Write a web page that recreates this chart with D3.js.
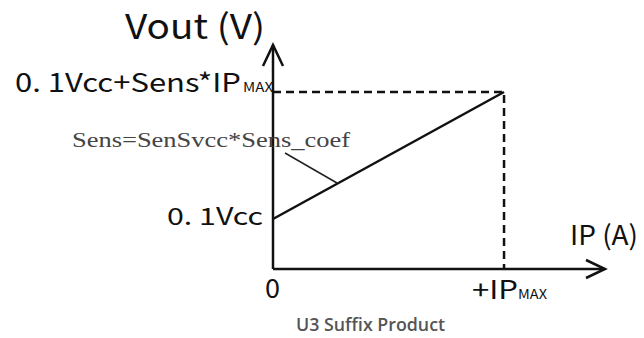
<!DOCTYPE html>
<html>
<head>
<meta charset="utf-8">
<script src="https://cdn.jsdelivr.net/npm/d3@7"></script>
<style>
  body { margin: 0; background: #fff; }
  svg text { font-family: "Noto Sans CJK SC", "Noto Sans", sans-serif; fill: #111; }
</style>
</head>
<body>
<div id="chart"></div>
<script>
// IP in units of IPMAX, Vout in volts (Vcc = 5)
var ipPoints = [0, 1];
var voutPoints = [0.5, 1.77];
var axisMax = [1.437, 2.24];   // where the arrows end
var yLabels = ["0. 1Vcc", "0. 1Vcc+Sens*IP"];
var xLabels = ["0", "+IP"];
var leaderPoints = [[0.052, 1.16], [0.277, 0.86]];

var width = 644, height = 338;
var origin = {x: 273, y: 269};

var x = d3.scaleLinear().domain([0, axisMax[0]]).range([origin.x, 605]);
var y = d3.scaleLinear().domain([0, axisMax[1]]).range([origin.y, 45]);

var svg = d3.select("#chart").append("svg")
            .attr("width", width)
            .attr("height", height);

// dashed guides to IPMAX
svg.append("path")
   .attr("d", d3.line()([[x(0), y(voutPoints[1])], [x(ipPoints[1]), y(voutPoints[1])], [x(ipPoints[1]), y(0)]]))
   .style("fill", "none")
   .style("stroke", "#111")
   .style("stroke-width", 2.5)
   .style("stroke-dasharray", "8,5");

// axes
var axes = svg.append("g")
              .style("fill", "none")
              .style("stroke", "#111")
              .style("stroke-width", 2.5);
axes.append("path")
    .attr("d", d3.line()([[x(0), y(0)], [x(0), y(axisMax[1])]]));
axes.append("path")
    .attr("d", d3.line()([[x(0), y(0)], [x(axisMax[0]), y(0)]]));
// arrow heads
axes.append("path")
    .attr("d", d3.line()([[x(0) - 10, y(axisMax[1]) + 21], [x(0), y(axisMax[1])], [x(0) + 10, y(axisMax[1]) + 21]]));
axes.append("path")
    .attr("d", d3.line()([[x(axisMax[0]) - 19, y(0) - 9], [x(axisMax[0]), y(0)], [x(axisMax[0]) - 19, y(0) + 9]]));

// transfer line
svg.append("path")
   .datum(ipPoints.map(function(d, i) { return [d, voutPoints[i]]; }))
   .attr("d", d3.line().x(function(d) { return x(d[0]); }).y(function(d) { return y(d[1]); }))
   .style("fill", "none")
   .style("stroke", "#111")
   .style("stroke-width", 2.5);

// leader to formula
svg.append("path")
   .attr("d", d3.line().x(function(d) { return x(d[0]); }).y(function(d) { return y(d[1]); })(leaderPoints))
   .style("fill", "none")
   .style("stroke", "#222")
   .style("stroke-width", 1.5);

// labels
svg.append("text")
   .attr("x", 125).attr("y", 39)
   .attr("textLength", 140).attr("lengthAdjust", "spacingAndGlyphs")
   .style("font-size", "34px")
   .text("Vout (V)");

var topLabel = svg.append("text")
   .attr("x", 15).attr("y", y(voutPoints[1]))
   .style("font-size", "26px");
topLabel.append("tspan")
   .attr("textLength", 226).attr("lengthAdjust", "spacingAndGlyphs")
   .text(yLabels[1]);
topLabel.append("tspan")
   .attr("dx", 2)
   .attr("textLength", 30).attr("lengthAdjust", "spacingAndGlyphs")
   .style("font-size", "13px")
   .text("MAX");

svg.append("text")
   .attr("x", 167).attr("y", y(voutPoints[0]) + 6)
   .attr("textLength", 96).attr("lengthAdjust", "spacingAndGlyphs")
   .style("font-size", "24px")
   .text(yLabels[0]);

svg.append("text")
   .attr("x", 72).attr("y", 147)
   .attr("textLength", 278).attr("lengthAdjust", "spacingAndGlyphs")
   .style("font-family", "'Liberation Serif', 'DejaVu Serif', serif")
   .style("font-size", "20px")
   .style("fill", "#444")
   .text("Sens=SenSvcc*Sens_coef");

svg.append("text")
   .attr("x", x(ipPoints[0]) - 8).attr("y", 298)
   .attr("textLength", 15).attr("lengthAdjust", "spacingAndGlyphs")
   .style("font-size", "26px")
   .text(xLabels[0]);

var ipLabel = svg.append("text")
   .attr("x", 472).attr("y", 299)
   .style("font-size", "25px");
ipLabel.append("tspan")
   .attr("textLength", 46).attr("lengthAdjust", "spacingAndGlyphs")
   .text(xLabels[1]);
ipLabel.append("tspan")
   .attr("textLength", 29).attr("lengthAdjust", "spacingAndGlyphs")
   .style("font-size", "13px")
   .text("MAX");

svg.append("text")
   .attr("x", 570).attr("y", 245)
   .attr("textLength", 68).attr("lengthAdjust", "spacingAndGlyphs")
   .style("font-size", "27px")
   .text("IP (A)");

svg.append("text")
   .attr("x", 296).attr("y", 331)
   .attr("textLength", 149).attr("lengthAdjust", "spacingAndGlyphs")
   .style("font-family", "'Open Sans', 'Noto Sans', sans-serif")
   .style("font-size", "18px")
   .style("font-weight", 600)
   .style("fill", "#555")
   .text("U3 Suffix Product");
</script>
</body>
</html>
